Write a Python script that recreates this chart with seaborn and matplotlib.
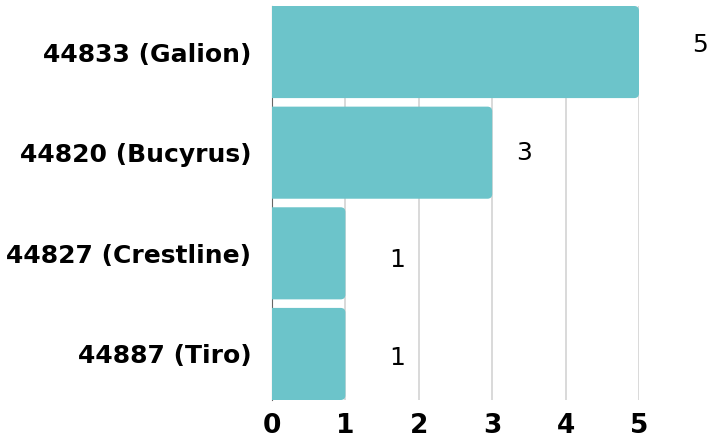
import matplotlib
matplotlib.use("Agg")
import matplotlib.pyplot as plt
import seaborn as sns
import pandas as pd
from matplotlib.patches import FancyBboxPatch

categories = ["44833 (Galion)", "44820 (Bucyrus)", "44827 (Crestline)", "44887 (Tiro)"]
values = [5, 3, 1, 1]
xticks = [0, 1, 2, 3, 4, 5]

BAR_COLOR = "#6CC4CA"
label_offsets_px = [61, 32, 52, 52]
label_dy_px = [7, 0, -7, -4]

sns.set_theme(style="white")
plt.rcParams['font.family'] = ['DejaVu Sans']

df = pd.DataFrame({"zip": categories, "count": values})

fig = plt.figure(figsize=(7.11, 4.40), dpi=100)
ax = fig.add_axes([272/711, 1-400/440, (639-272)/711, (400-6)/440])

sns.barplot(data=df, x="count", y="zip", orient="h", color=BAR_COLOR,
            width=0.915, ax=ax, saturation=1)

ax.set_xlim(0, 5)
ax.set_ylim(len(categories)-0.5-0.0425, -0.5+0.0425)

# Replace rectangles with rounded ones
patches = list(ax.patches)
for p in patches:
    x0, y0 = p.get_x(), p.get_y()
    w, h = p.get_width(), p.get_height()
    p.remove()
    fb = FancyBboxPatch((x0 - 0.2, y0), w + 0.2, h,
                        boxstyle="round,pad=0,rounding_size=0.065",
                        mutation_aspect=0.73,
                        facecolor=BAR_COLOR, edgecolor="none", zorder=2)
    ax.add_patch(fb)

ax.set_xticks(xticks)
ax.set_xticklabels([str(t) for t in xticks])
ax.grid(axis="x", color="#d3d3d3", linewidth=1.2, zorder=0)
ax.grid(axis="y", visible=False)
ax.set_axisbelow(True)

for s in ["top", "right", "bottom"]:
    ax.spines[s].set_visible(False)
ax.spines["left"].set_color("#666666")
ax.spines["left"].set_linewidth(0.8)
ax.spines["left"].set_zorder(1)

ax.set_xlabel("")
ax.set_ylabel("")
ax.tick_params(axis="y", length=0, pad=15, labelsize=18)
ax.tick_params(axis="x", length=0, pad=9, labelsize=19)
for t in ax.get_yticklabels() + ax.get_xticklabels():
    t.set_fontweight("bold")
    t.set_color("black")

for i, v in enumerate(values):
    ax.annotate(str(v), xy=(v, i), xytext=(label_offsets_px[i]*0.72, label_dy_px[i]*0.72),
                textcoords="offset points", ha="center", va="center",
                fontsize=18, color="black", annotation_clip=False)

fig.savefig("out.png", dpi=100)
